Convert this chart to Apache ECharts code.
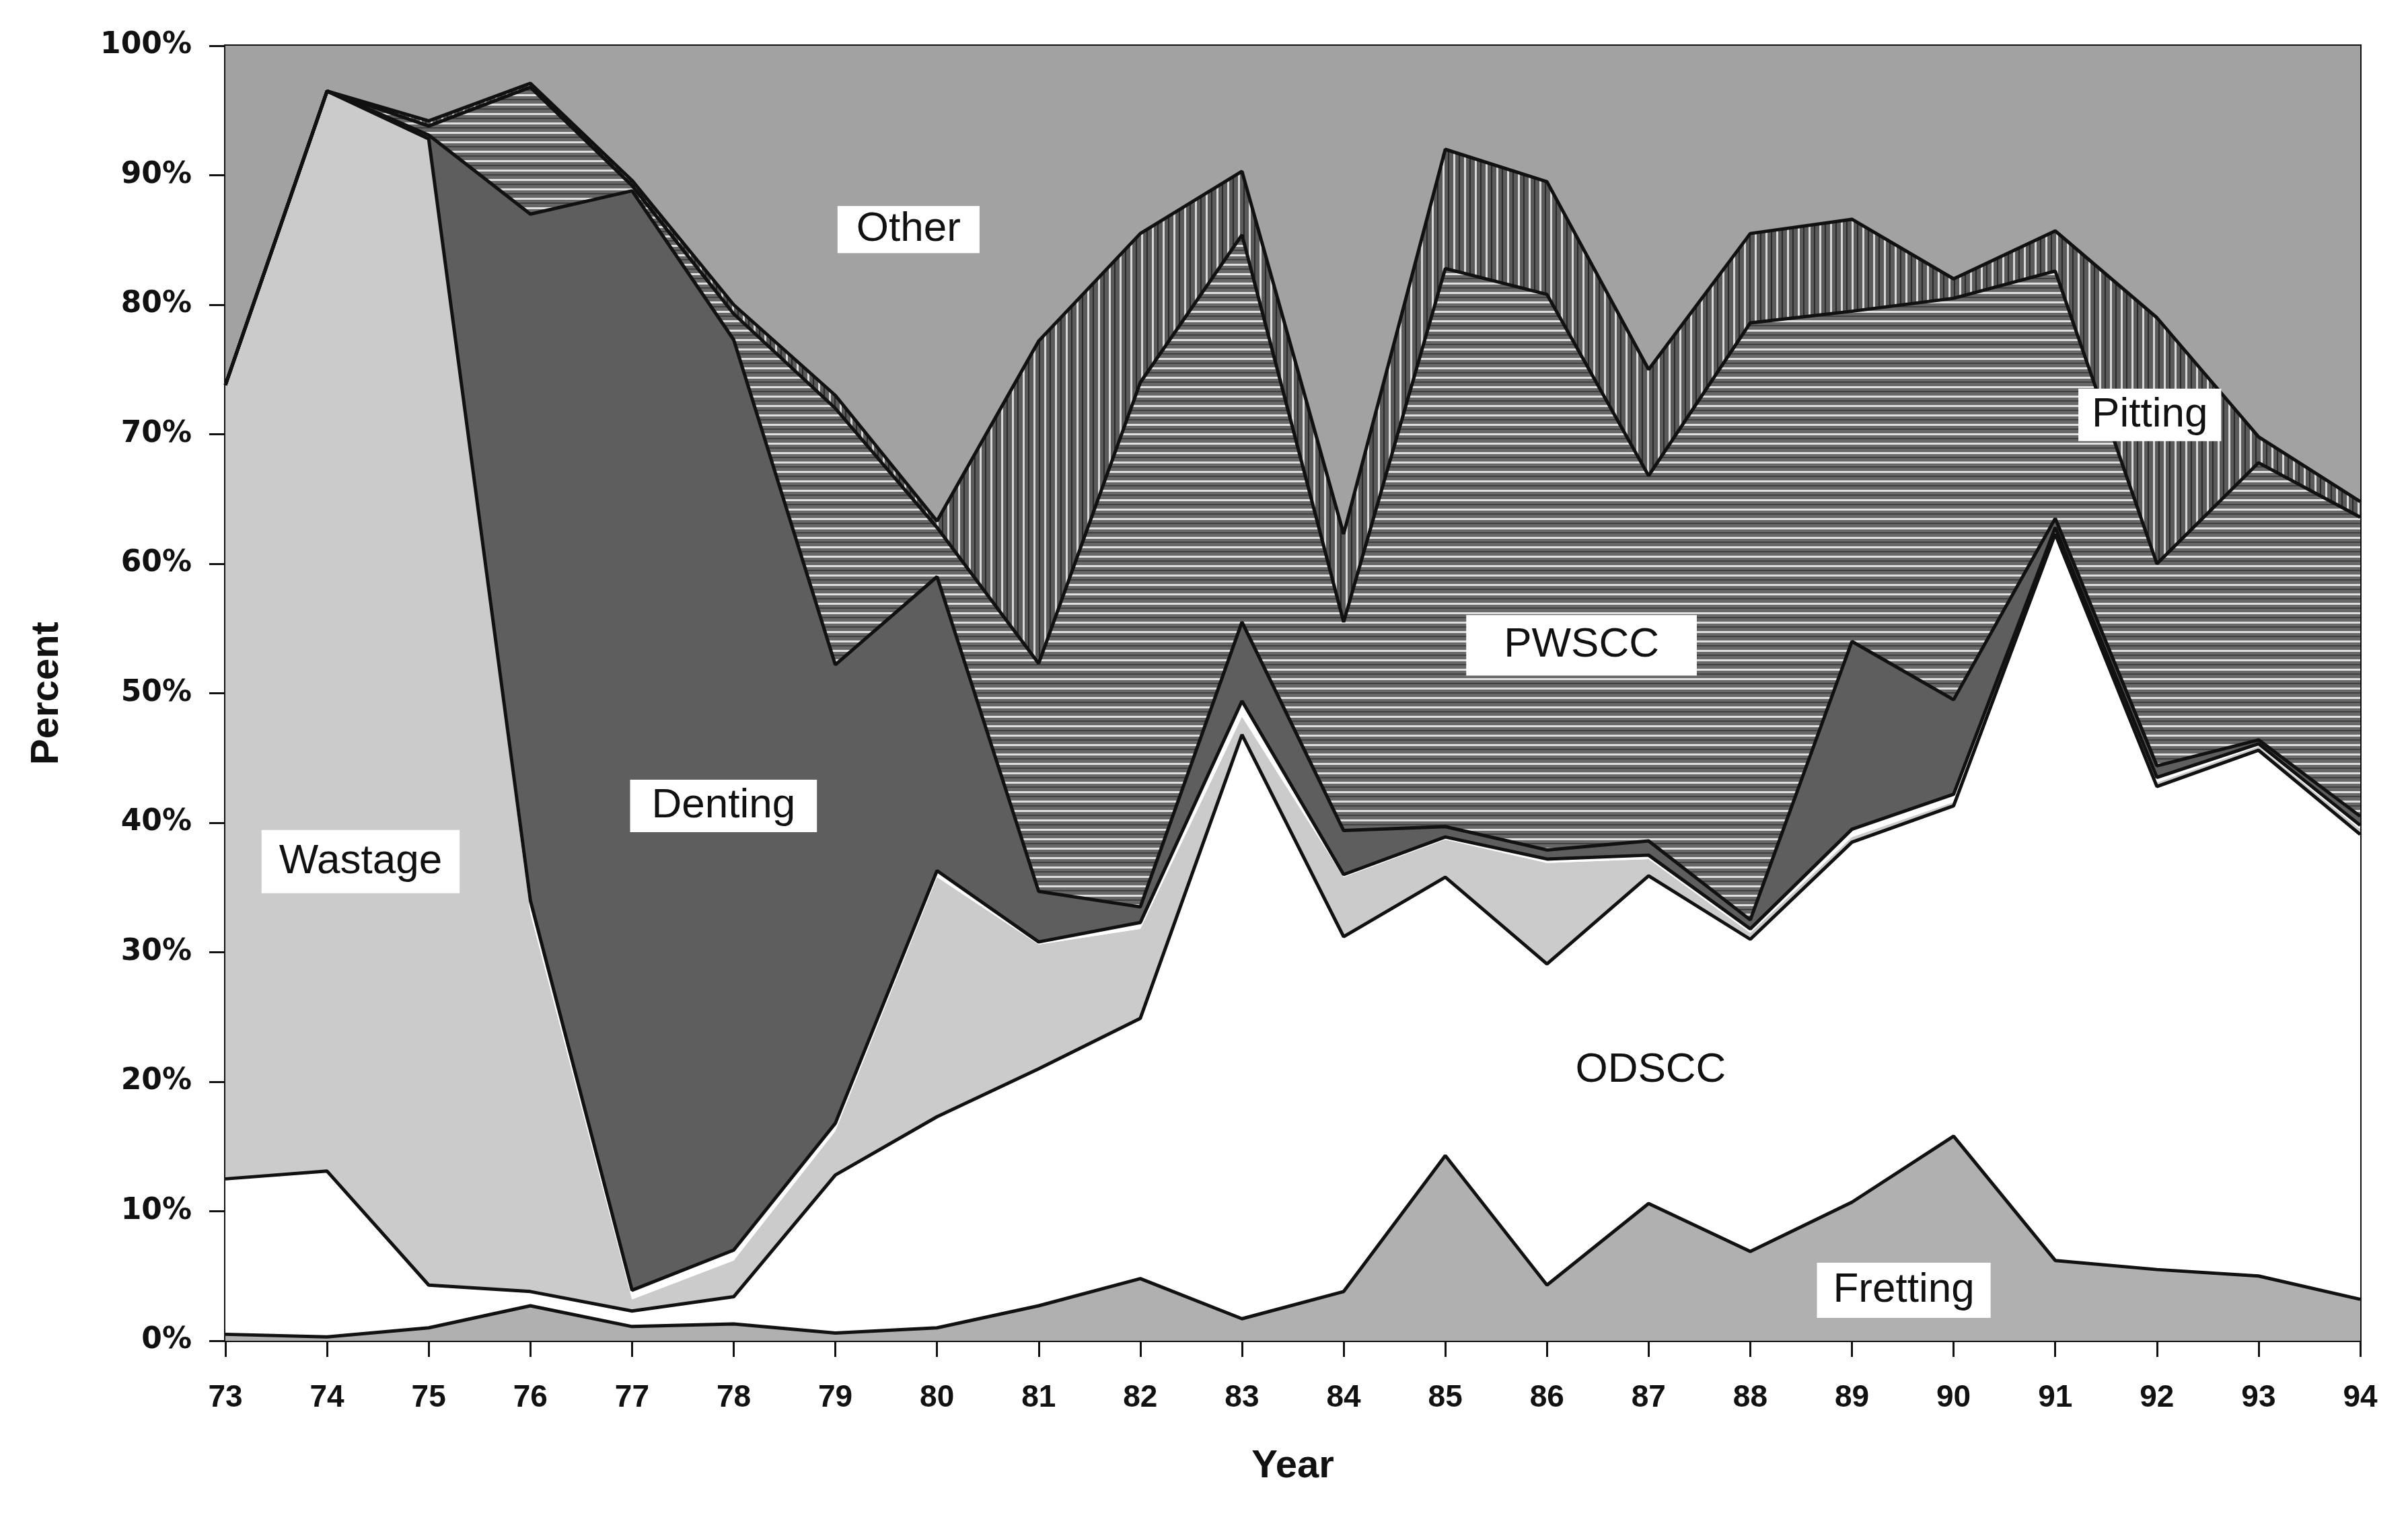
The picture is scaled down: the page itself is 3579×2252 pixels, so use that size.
<!DOCTYPE html>
<html>
<head>
<meta charset="utf-8">
<script src="https://cdn.jsdelivr.net/npm/echarts@6/dist/echarts.min.js"></script>
<style>
html, body { margin: 0; padding: 0; background: #fff; }
#chart { width: 3579px; height: 2252px; }
</style>
</head>
<body>
<div id="chart"></div>
<script>
// years 1973-1994, share of tube degradation by cause (percent of each year)
var years = ['73','74','75','76','77','78','79','80','81','82','83','84','85','86','87','88','89','90','91','92','93','94'];
var fretting = [0.5, 0.3, 1.0, 2.7, 1.1, 1.3, 0.6, 1.0, 2.7, 4.8, 1.7, 3.8, 14.3, 4.3, 10.6, 6.9, 10.7, 15.8, 6.2, 5.5, 5.0, 3.2];
var odscc    = [12.0, 12.8, 3.3, 1.1, 1.2, 2.1, 12.2, 16.3, 18.3, 20.1, 45.1, 27.4, 21.5, 24.8, 25.3, 24.1, 27.8, 25.5, 56.1, 37.3, 40.6, 35.9];
var wastage  = [61.3, 83.4, 88.5, 29.2, 0.9, 2.8, 3.4, 18.5, 9.6, 6.9, 1.4, 4.6, 2.9, 7.8, 1.3, 0.5, 0.4, 0.3, 0.3, 0.3, 0.3, 0.4];
var unnamed  = [0, 0, 0, 1.0, 0.7, 0.8, 0.6, 0.5, 0.2, 0.5, 1.2, 0.2, 0.2, 0.3, 0.3, 0.3, 0.6, 0.6, 0.2, 0.4, 0.2, 0.3];
var denting  = [0, 0, 0.3, 53.0, 84.9, 70.3, 35.4, 22.7, 3.9, 1.2, 6.1, 3.4, 0.8, 0.7, 1.1, 0.7, 14.5, 7.3, 0.7, 0.9, 0.3, 0.7];
var pwscc    = [0, 0, 0.7, 9.8, 0.4, 2.0, 19.8, 3.8, 17.6, 40.5, 29.9, 16.1, 43.1, 42.9, 28.2, 46.1, 25.5, 31.0, 19.1, 15.6, 21.4, 23.1];
var pitting  = [0, 0, 0.4, 0.3, 0.4, 0.7, 1.0, 0.5, 24.9, 11.5, 4.9, 6.8, 9.2, 8.7, 8.2, 6.9, 7.1, 1.5, 3.1, 19.0, 2.0, 1.2];
var other    = [26.2, 3.5, 5.8, 2.9, 10.4, 20.0, 27.0, 36.7, 22.8, 14.5, 9.7, 37.7, 8.0, 10.5, 25.0, 14.5, 13.4, 18.0, 14.3, 21.0, 30.2, 35.2];

// in-plot labels: text, year position (index), percent
var labelText = ['Other', 'Denting', 'Wastage', 'PWSCC', 'Pitting', 'ODSCC', 'Fretting'];
var labelYear = [6.72, 4.9, 1.33, 13.34, 18.93, 14.02, 16.51];
var labelPct  = [85.8, 41.3, 37.0, 53.7, 71.5, 20.9, 3.9];

function hatch(dir, size, bg, light, dark) {
  var c = document.createElement('canvas');
  c.width = size; c.height = size;
  var g = c.getContext('2d');
  g.fillStyle = bg; g.fillRect(0, 0, size, size);
  g.fillStyle = light;
  if (dir === 'h') g.fillRect(0, 0, size, 3); else g.fillRect(0, 0, 3, size);
  g.fillStyle = dark;
  if (dir === 'h') g.fillRect(0, Math.round(size / 2), size, 2); else g.fillRect(Math.round(size / 2), 0, 2, size);
  return { image: c, repeat: 'repeat' };
}

var layers = [
  { name: 'Fretting', data: fretting, fill: '#b0b0b0', edge: true },
  { name: 'ODSCC', data: odscc, fill: '#ffffff', edge: true },
  { name: 'Wastage', data: wastage, fill: '#cbcbcb', edge: false },
  { name: 'unnamed', data: unnamed, fill: '#ffffff', edge: true },
  { name: 'Denting', data: denting, fill: '#5e5e5e', edge: true },
  { name: 'PWSCC', data: pwscc, fill: hatch('h', 14, '#686868', '#dedede', '#414141'), edge: true },
  { name: 'Pitting', data: pitting, fill: hatch('v', 16, '#5a5a5a', '#d8d8d8', '#2a2a2a'), edge: true },
  { name: 'Other', data: other, fill: '#a2a2a2', edge: false }
];

var series = [];
layers.forEach(function (l) {
  series.push({
    name: l.name, type: 'line', stack: 'area', data: l.data,
    symbol: 'none', lineStyle: { width: 0 },
    areaStyle: { color: l.fill, opacity: 1 }, z: 2
  });
});
layers.forEach(function (l) {
  series.push({
    name: l.name + '_edge', type: 'line', stack: 'edge', data: l.data,
    symbol: 'none', z: 3,
    lineStyle: { width: l.edge ? 5 : 0, color: '#111' }
  });
});

var chart = echarts.init(document.getElementById('chart'));
chart.setOption({
  animation: false,
  backgroundColor: '#fff',
  grid: { left: 335, right: 71, top: 68, bottom: 259, show: true, borderColor: '#111', borderWidth: 4, backgroundColor: 'transparent' },
  xAxis: {
    type: 'category', data: years, boundaryGap: false,
    name: 'Year', nameLocation: 'middle', nameGap: 158,
    nameTextStyle: { fontFamily: 'Liberation Sans', fontWeight: 'bold', fontSize: 58, color: '#111' },
    axisLine: { lineStyle: { color: '#111', width: 4 } },
    axisTick: { alignWithLabel: true, length: 24, lineStyle: { color: '#111', width: 3 } },
    axisLabel: { margin: 62, fontFamily: 'Liberation Sans Narrow, Liberation Sans', fontWeight: 'bold', fontSize: 46, color: '#111' },
    splitLine: { show: false }
  },
  yAxis: {
    type: 'value', min: 0, max: 100, interval: 10,
    name: 'Percent', nameLocation: 'middle', nameGap: 236,
    nameTextStyle: { fontFamily: 'Liberation Sans', fontWeight: 'bold', fontSize: 58, color: '#111' },
    axisLine: { show: true, lineStyle: { color: '#111', width: 4 } },
    axisTick: { show: true, length: 24, lineStyle: { color: '#111', width: 3 } },
    axisLabel: { margin: 50, formatter: '{value}%', fontFamily: 'DejaVu Sans', fontWeight: 'bold', fontSize: 44, color: '#111' },
    splitLine: { show: false }
  },
  series: series
});

// boxed labels placed in data coordinates
var p0 = chart.convertToPixel({ gridIndex: 0 }, [0, 0]);
var p1 = chart.convertToPixel({ gridIndex: 0 }, [21, 100]);
var pads = [[4, 28], [8, 32], [16, 26], [14, 56], [8, 20], [0, 0], [10, 24]];
var graphics = labelText.map(function (t, i) {
  var x = p0[0] + (p1[0] - p0[0]) * labelYear[i] / 21;
  var y = p0[1] + (p1[1] - p0[1]) * labelPct[i] / 100;
  return {
    type: 'text', x: x, y: y, z: 10,
    style: {
      text: t, font: '62px "Liberation Sans", Arial, sans-serif', fill: '#111',
      align: 'center', verticalAlign: 'middle',
      backgroundColor: '#fff', padding: pads[i]
    }
  };
});
chart.setOption({ graphic: graphics });
</script>
</body>
</html>
